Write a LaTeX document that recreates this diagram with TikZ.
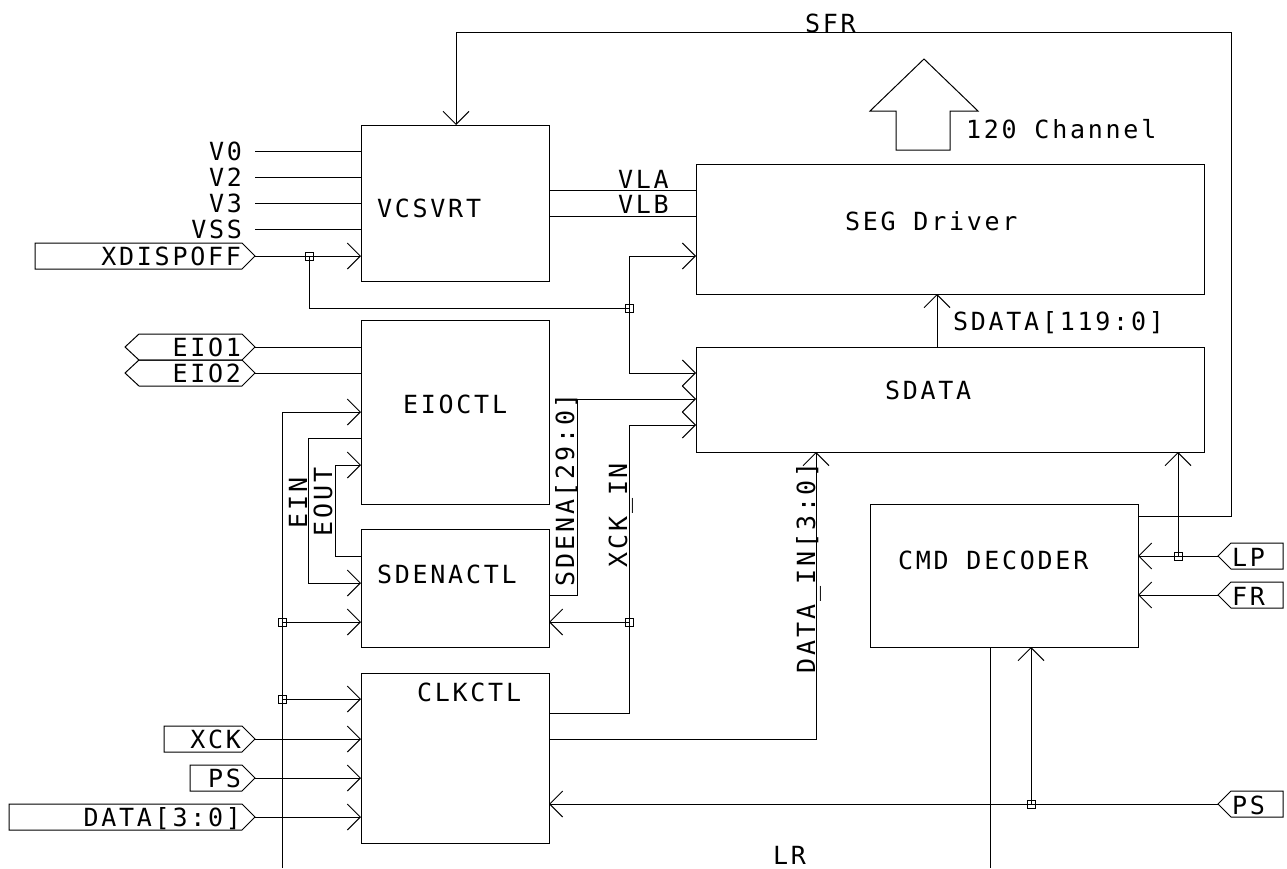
\documentclass[tikz,border=0pt]{standalone}
\usepackage{fontspec}
\newfontfamily\cadfont{DejaVu Sans Mono}[LetterSpace=11]
\usetikzlibrary{arrows.meta}
\newcommand\cadin[4]{% name, left x, y, text
  \draw (#2,#3-13) -- (242,#3-13) -- (255,#3) -- (242,#3+13) -- (#2,#3+13) -- cycle;
  \coordinate (#1) at (255,#3);
  \node[lbl, anchor=base east] (t#1) at (241,#3+9) {#4};}
\newcommand\cadbi[3]{% name, y, text
  \draw (125,#2) -- (139,#2-13) -- (242,#2-13) -- (255,#2) -- (242,#2+13) -- (139,#2+13) -- cycle;
  \coordinate (#1) at (255,#2);
  \node[lbl, anchor=base east] (t#1) at (241,#2+9) {#3};}
\newcommand\cadrt[3]{% name, y, text
  \draw (1218,#2) -- (1231,#2-13) -- (1283,#2-13) -- (1283,#2+13) -- (1231,#2+13) -- cycle;
  \coordinate (#1) at (1218,#2);
  \node[lbl, anchor=base west] (t#1) at (1232,#2+10) {#3};}
\begin{document}
\begin{tikzpicture}[x=1pt,y=-1pt, line width=1pt,
  blk/.style={draw, rectangle, inner sep=0pt, outer sep=0pt},
  lbl/.style={font=\cadfont\fontsize{25}{30}\selectfont, inner sep=0pt, outer sep=0pt},
  jn/.style={draw, rectangle, minimum size=8pt, inner sep=0pt, line width=0.8pt},
  >={Straight Barb[length=13pt,width=26pt]}]
\useasboundingbox (0,0) rectangle (1287,868);

% blocks
\node[blk, minimum width=188pt, minimum height=156pt] (vcs) at (455,203) {};
\node[blk, minimum width=508pt, minimum height=130pt] (seg) at (950,229) {};
\node[blk, minimum width=508pt, minimum height=105pt] (sdata) at (950,399.5) {};
\node[blk, minimum width=188pt, minimum height=184pt] (eio) at (455,412) {};
\node[blk, minimum width=188pt, minimum height=118pt] (sden) at (455,588) {};
\node[blk, minimum width=188pt, minimum height=170pt] (clk) at (455,758) {};
\node[blk, minimum width=268pt, minimum height=143pt] (cmd) at (1004,575.5) {};

% block labels
\node[lbl, anchor=base west] (tvcs) at (377,217) {VCSVRT};
\node[lbl, anchor=base west] (tseg) at (845,230) {SEG Driver};
\node[lbl, anchor=base west] (tsdata) at (885,399) {SDATA};
\node[lbl, anchor=base west] (teio) at (403,413) {EIOCTL};
\node[lbl, anchor=base west] (tsden) at (377,583) {SDENACTL};
\node[lbl, anchor=base west] (tclk) at (417,701) {CLKCTL};
\node[lbl, anchor=base west] (tcmd) at (898,569) {CMD DECODER};

% 120 channel block arrow
\draw (896,150) -- (896,111) -- (870,111) -- (924,59) -- (978,111) -- (950,111) -- (950,150) -- cycle;
\node[lbl, anchor=base west] (tch) at (966,138) {120 Channel};

% ports
\cadin{xdisp}{35}{256}{XDISPOFF}
\cadin{xck}{164}{739}{XCK}
\cadin{psl}{190}{778}{PS}
\cadin{data}{9}{817}{DATA[3:0]}
\cadbi{eio1}{347}{EIO1}
\cadbi{eio2}{373}{EIO2}
\cadrt{lp}{556}{LP}
\cadrt{fr}{595}{FR}
\cadrt{psr}{804}{PS}

% supply pins
\foreach \n/\yy/\t in {v0/151/V0, v2/177/V2, v3/203/V3, vss/229/VSS}{
  \coordinate (\n) at (255,\yy);
  \node[lbl, anchor=base east] (t\n) at (242,\yy+9) {\t};
  \draw (\n) -- (vcs.west |- \n);
}

% junctions
\node[jn] (j1) at (309,256) {};
\node[jn] (j2) at (629,308) {};
\node[jn] (j3) at (282,622) {};
\node[jn] (j4) at (282,699) {};
\node[jn] (j5) at (629,622) {};
\node[jn] (j6) at (1031,804) {};
\node[jn] (j7) at (1178,556) {};

% bend points
\coordinate (einbot) at (282,868);
\coordinate (lrbot) at (990,868);
\coordinate (sfrr) at (1231,32);
\coordinate (sfrl) at (456,32);

% XDISPOFF
\draw[->] (xdisp) -- (vcs.west |- xdisp);
\draw (j1.center) |- (j2.center);
\draw[->] (j2.center) |- (seg.west |- 0,256);
\draw[->] (j2.center) |- (sdata.west |- 0,373);

% SFR
\draw[->] (cmd.east |- 0,516) -| (sfrr) -- (sfrl) -- (vcs.north -| sfrl);
\node[lbl, anchor=base west] (tsfr) at (805,32) {SFR};

% VLA / VLB
\draw (vcs.east |- 0,190) -- (seg.west |- 0,190);
\draw (vcs.east |- 0,216) -- (seg.west |- 0,216);
\node[lbl, anchor=base west] (tvla) at (618,188) {VLA};
\node[lbl, anchor=base west] (tvlb) at (618,213) {VLB};

% SDATA[119:0]
\draw[->] (sdata.north -| 937,0) -- (seg.south -| 937,0);
\node[lbl, anchor=base west] (tsd119) at (953,330) {SDATA[119:0]};

% EIO1 / EIO2
\draw (eio1) -- (eio.west |- eio1);
\draw (eio2) -- (eio.west |- eio2);

% EIN
\draw[->] (einbot) |- (eio.west |- 0,412);
\draw[->] (j3.center) -- (sden.west |- j3);
\draw[->] (j4.center) -- (clk.west |- j4);
\node[lbl, anchor=base west, rotate=90] (tein) at (307,528) {EIN};

% EOUT
\draw[->] (eio.west |- 0,438) -| (308,583) -- (sden.west |- 0,583);
\node[lbl, anchor=base west, rotate=90] (teout) at (332,536) {EOUT};
\draw[->] (sden.west |- 0,556) -| (335,465) -- (eio.west |- 0,465);

% SDENA[29:0]
\draw[->] (sden.east |- 0,595) -| (577,399) -- (sdata.west |- 0,399);
\node[lbl, anchor=base west, rotate=90] (tsdena) at (574,586) {SDENA[29:0]};

% XCK_IN
\draw (clk.east |- 0,713) -| (j5.center);
\draw[->] (j5.center) -- (sden.east |- j5);
\draw[->] (j5.center) |- (sdata.west |- 0,425);
\node[lbl, anchor=base west, rotate=90] (txckin) at (627,567) {XCK\_IN};

% DATA_IN[3:0]
\draw[->] (clk.east |- 0,739) -| (sdata.south -| 816,0);
\node[lbl, anchor=base west, rotate=90] (tdatain) at (815,673) {DATA\_IN[3:0]};

% CLKCTL inputs
\draw[->] (xck) -- (clk.west |- xck);
\draw[->] (psl) -- (clk.west |- psl);
\draw[->] (data) -- (clk.west |- data);

% PS right
\draw[->] (psr) -- (clk.east |- psr);
\draw[->] (j6.center) -- (cmd.south -| j6);

% LP / FR
\draw[->] (lp) -- (cmd.east |- lp);
\draw[->] (j7.center) -- (sdata.south -| j7);
\draw[->] (fr) -- (cmd.east |- fr);

% LR
\draw (cmd.south -| lrbot) -- (lrbot);
\node[lbl, anchor=base west] (tlr) at (773,864) {LR};
\end{tikzpicture}
\end{document}
